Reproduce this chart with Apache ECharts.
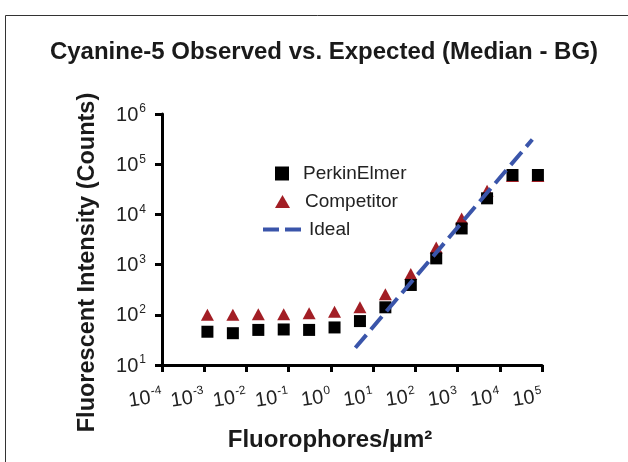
<!DOCTYPE html>
<html><head><meta charset="utf-8">
<script src="https://cdn.jsdelivr.net/npm/echarts@6/dist/echarts.min.js"></script>
<style>html,body{margin:0;padding:0;background:#fff}#c{width:628px;height:462px}</style>
</head><body><div id="c"></div>
<script>
// Fluorophore densities (4-fold dilution series), per µm²
const xValues = [0.00119, 0.00477, 0.0191, 0.0763, 0.305, 1.22, 4.88, 19.5, 78.1, 312.5, 1250, 5000, 20000, 80000];
// Median - BG intensities
const perkinElmer = [46, 43, 50, 51, 50, 56, 75, 141, 393, 1330, 5250, 20900, 61000, 61000];
const competitor = [100, 100, 103, 103, 107, 115, 141, 257, 650, 2200, 8300, 29700, 58000, 58000];
// Ideal line endpoints
const idealX = [3.8, 59000];
const idealY = [22, 310000];

const FONT = '"Liberation Sans", Arial, Helvetica, sans-serif';
const chart = echarts.init(document.getElementById('c'), null, {renderer: 'canvas'});
function supLabel(v) {
  const e = Math.round(Math.log10(v));
  return '{b|10}{s|' + e + '}';
}
const rich = {
  b: {fontSize: 20, fontFamily: FONT, color: '#222', verticalAlign: 'bottom', lineHeight: 22},
  s: {fontSize: 12, fontFamily: FONT, color: '#222', verticalAlign: 'top', lineHeight: 22, padding: [0, 0, 0, 1]}
};
chart.setOption({
  backgroundColor: '#fff',
  animation: false,
  title: {
    text: 'Cyanine-5 Observed vs. Expected (Median - BG)',
    left: 319, top: 35, textAlign: 'center',
    textStyle: {fontFamily: FONT, fontWeight: 'bold', fontSize: 24, color: '#1a1a1a'}
  },
  graphic: [{
    type: 'rect', shape: {x: 5.5, y: 15.5, width: 800, height: 600},
    style: {fill: 'none', stroke: '#333', lineWidth: 1}, silent: true, z: -10
  }],
  legend: [
    {data: ['PerkinElmer'], left: 270, top: 159, itemWidth: 14, itemHeight: 14, itemGap: 0,
     textStyle: {fontFamily: FONT, fontSize: 19, color: '#222', padding: [0, 0, 0, 9]}},
    {data: ['Competitor'], left: 270, top: 187, itemWidth: 15, itemHeight: 13, itemGap: 0,
     textStyle: {fontFamily: FONT, fontSize: 19, color: '#222', padding: [0, 0, 0, 10]}},
    {data: [{name: 'Ideal', icon: 'path://M0,0 L16,0 L16,4 L0,4 Z M22,0 L38,0 L38,4 L22,4 Z'}], left: 258, top: 215, itemWidth: 38, itemHeight: 4, itemGap: 0,
     textStyle: {fontFamily: FONT, fontSize: 19, color: '#222', padding: [0, 0, 0, 3]}, itemStyle: {color: '#3a55aa'}}
  ],
  grid: {left: 162, right: 86, top: 114, bottom: 97, containLabel: false},
  xAxis: {
    type: 'log', logBase: 10, min: 1e-4, max: 1e5,
    name: 'Fluorophores/µm²', nameLocation: 'middle', nameGap: 63,
    nameTextStyle: {fontFamily: FONT, fontWeight: 'bold', fontSize: 24, color: '#1a1a1a', padding: [0, 44, 0, 0]},
    axisLine: {lineStyle: {color: '#000', width: 3}},
    axisTick: {length: 7, lineStyle: {color: '#000', width: 3}},
    minorTick: {show: false},
    splitLine: {show: false},
    axisLabel: {formatter: supLabel, rich: rich, fontSize: 20, fontFamily: FONT, margin: 30, rotate: 9}
  },
  yAxis: {
    type: 'log', logBase: 10, min: 10, max: 1e6,
    name: 'Fluorescent Intensity (Counts)', nameLocation: 'middle', nameGap: 62, nameRotate: 90,
    nameTextStyle: {fontFamily: FONT, fontWeight: 'bold', fontSize: 23.5, color: '#1a1a1a', padding: [0, 46, 0, 0]},
    axisLine: {lineStyle: {color: '#000', width: 3}},
    axisTick: {length: 7, lineStyle: {color: '#000', width: 3}},
    splitLine: {show: false},
    axisLabel: {formatter: supLabel, rich: rich, fontSize: 20, fontFamily: FONT, margin: 16}
  },
  series: [
    {name: 'PerkinElmer', type: 'scatter', symbol: 'rect', symbolSize: 12,
     itemStyle: {color: '#000', opacity: 1}, z: 3,
     data: xValues.map((x, i) => [x, perkinElmer[i]])},
    {name: 'Competitor', type: 'scatter', symbol: 'triangle', symbolSize: [13, 12],
     itemStyle: {color: '#a21e25', opacity: 1}, z: 2,
     data: xValues.map((x, i) => [x, competitor[i]])},
    {name: 'Ideal', type: 'line', symbol: 'none', z: 4,
     lineStyle: {color: '#3a55aa', width: 4, type: [17, 7]},
     data: idealX.map((x, i) => [x, idealY[i]])}
  ]
});
</script></body></html>
